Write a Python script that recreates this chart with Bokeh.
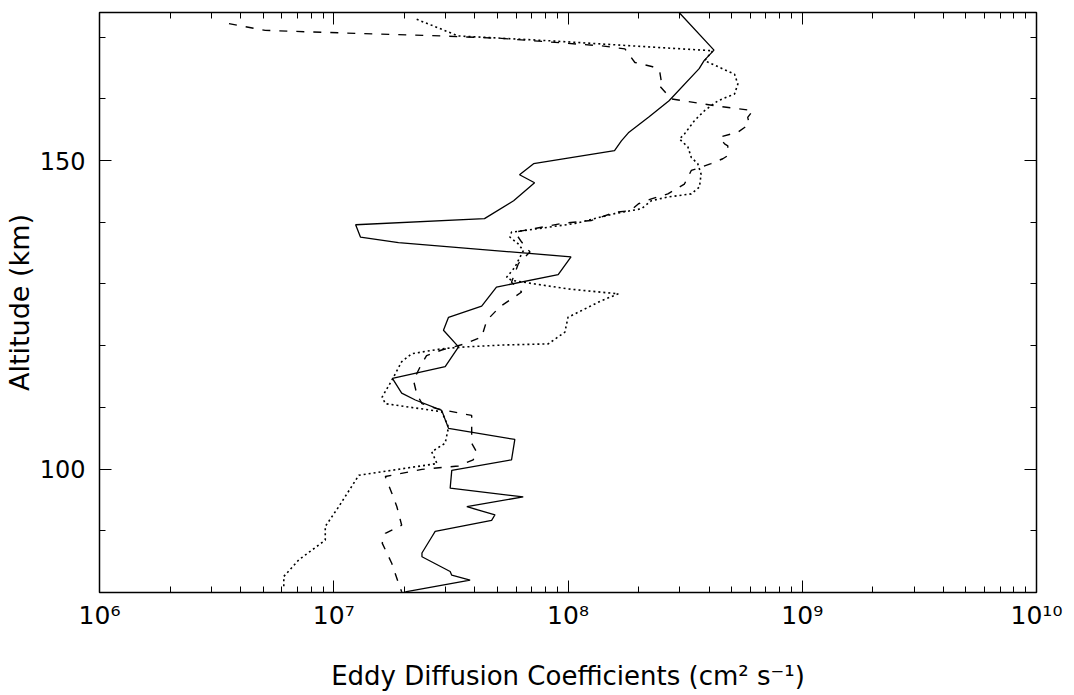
from bokeh.plotting import figure
from bokeh.models import (LogAxis, LinearAxis, FixedTicker, SingleIntervalTicker,
                          CustomJSTickFormatter, Range1d)
from bokeh.embed import file_html
from bokeh.resources import INLINE

# Eddy diffusion profiles: altitude (km) and coefficient (cm^2 s^-1)
solid_alt = [174.0, 167.9, 166.2, 164.9, 159.7, 157.1, 154.5, 153.2, 151.6, 149.5,
             147.7, 146.4, 143.5, 140.6, 139.6, 137.6, 136.7, 134.4, 131.5, 129.5,
             126.4, 124.6, 122.5, 119.8, 116.6, 114.7, 112.3, 111.2, 109.5, 106.6,
             104.8, 101.5, 99.8, 96.9, 95.5, 93.9, 92.6, 91.7, 89.9, 89.0,
             86.4, 85.8, 83.4, 82.8, 82.0, 80.1]
solid_k = [2.98e8, 4.2e8, 3.81e8, 3.63e8, 2.70e8, 2.22e8, 1.81e8, 1.69e8, 1.58e8, 7.13e7,
           6.21e7, 7.2e7, 5.86e7, 4.40e7, 1.24e7, 1.30e7, 1.89e7, 1.03e8, 9.08e7, 4.95e7,
           4.28e7, 3.09e7, 2.94e7, 3.41e7, 2.99e7, 1.78e7, 1.95e7, 2.23e7, 2.89e7, 3.09e7,
           5.93e7, 5.74e7, 3.19e7, 3.14e7, 6.44e7, 3.70e7, 4.88e7, 4.72e7, 2.71e7, 2.62e7,
           2.38e7, 2.38e7, 3.14e7, 3.19e7, 3.82e7, 2.02e7]

dashed_alt = [172.2, 171.1, 170.6, 170.2, 169.8, 168.6, 168.1, 165.9, 165.2, 164.6,
              162.9, 162.4, 160.0, 159.7, 158.9, 158.1, 157.0, 155.9, 154.6, 153.8,
              152.7, 152.4, 150.8, 150.3, 149.5, 148.4, 146.2, 144.6, 143.8, 143.0,
              141.9, 141.6, 140.3, 139.8, 138.4, 136.8, 135.2, 133.3, 130.3, 128.7,
              126.3, 124.1, 121.4, 120.3, 119.3, 118.4, 116.6, 114.4, 112.2, 110.6,
              109.8, 108.7, 104.2, 102.8, 101.5, 100.5, 99.95, 98.8, 96.1, 93.9,
              90.9, 89.6, 88.0, 84.7, 81.5, 80.1]
dashed_k = [3.57e6, 5.1e6, 1.28e7, 2.89e7, 5.2e7, 1.39e8, 1.75e8, 1.93e8, 2.30e8, 2.46e8,
            2.50e8, 2.42e8, 2.76e8, 3.09e8, 4.22e8, 6.15e8, 5.85e8, 5.94e8, 5.31e8, 4.44e8,
            4.66e8, 4.81e8, 4.81e8, 4.58e8, 4.08e8, 3.36e8, 3.14e8, 2.67e8, 2.27e8, 2.0e8,
            1.85e8, 1.58e8, 1.26e8, 9.38e7, 5.93e7, 6.34e7, 6.88e7, 6.14e7, 5.74e7, 6.34e7,
            5.12e7, 4.50e7, 4.28e7, 3.63e7, 2.89e7, 2.49e7, 2.34e7, 2.19e7, 2.26e7, 2.38e7,
            2.75e7, 3.88e7, 3.88e7, 4.07e7, 3.94e7, 3.40e7, 2.38e7, 1.66e7, 1.77e7, 1.86e7,
            1.95e7, 1.66e7, 1.61e7, 1.77e7, 1.89e7, 1.95e7]

dotted_alt = [172.9, 170.2, 169.4, 168.4, 167.8, 166.2, 164.0, 162.4, 160.8, 159.7,
              158.1, 156.5, 154.3, 153.5, 152.2, 150.5, 149.5, 147.8, 145.7, 144.6,
              144.1, 143.5, 142.2, 141.4, 139.8, 138.9, 138.4, 137.6, 136.5, 135.4,
              133.8, 132.7, 131.1, 130.6, 130.0, 129.2, 128.4, 127.3, 124.6, 122.2,
              120.3, 120.1, 119.8, 119.5, 118.7, 117.4, 114.4, 111.7, 110.6, 109.3,
              106.8, 104.2, 102.8, 100.9, 99.0, 98.2, 93.9, 90.7, 88.5, 85.3,
              82.6, 80.7]
dotted_k = [2.26e7, 3.40e7, 8.51e7, 2.27e8, 4.15e8, 3.83e8, 5.14e8, 5.31e8, 5.14e8, 4.37e8,
            3.83e8, 3.47e8, 3.14e8, 2.99e8, 3.25e8, 3.36e8, 3.58e8, 3.70e8, 3.64e8, 3.36e8,
            2.67e8, 2.27e8, 2.06e8, 1.58e8, 1.07e8, 7.22e7, 5.74e7, 5.65e7, 6.13e7, 6.45e7,
            6.13e7, 5.93e7, 5.47e7, 5.74e7, 7.22e7, 1.0e8, 1.64e8, 1.39e8, 1.0e8, 9.7e7,
            8.24e7, 5.21e7, 3.63e7, 2.89e7, 2.15e7, 1.95e7, 1.77e7, 1.61e7, 1.66e7, 2.89e7,
            3.09e7, 2.99e7, 2.62e7, 2.76e7, 1.28e7, 1.24e7, 1.05e7, 9.2e6, 9.2e6, 7.1e6,
            6.12e6, 6.12e6]

x_decades = [1e6, 1e7, 1e8, 1e9, 1e10]
x_minor = [m * d for d in x_decades[:-1] for m in range(2, 10)]

FONT = "DejaVu Sans"

p = figure(width=1074, height=695, x_axis_type="log",
           x_range=Range1d(1e6, 1e10), y_range=Range1d(80, 174),
           output_backend="svg", toolbar_location=None,
           min_border_left=97, min_border_right=38,
           min_border_top=12, min_border_bottom=103)
p.background_fill_color = "white"
p.border_fill_color = "white"
p.outline_line_color = "black"
p.outline_line_width = 1.5
p.xgrid.visible = False
p.ygrid.visible = False

p.line(solid_k, solid_alt, line_color="black", line_width=1.3)
p.line(dashed_k, dashed_alt, line_color="black", line_width=1.4, line_dash="8 9")
p.line(dotted_k, dotted_alt, line_color="black", line_width=1.6, line_dash="2 3")

# decade labels written as 10 with a superscript exponent
sup_fmt = CustomJSTickFormatter(code="""
const sup = {'0':'\u2070','1':'\u00b9','2':'\u00b2','3':'\u00b3','4':'\u2074',
             '5':'\u2075','6':'\u2076','7':'\u2077','8':'\u2078','9':'\u2079','-':'\u207b'};
const e = Math.round(Math.log10(tick));
return '10' + String(e).split('').map(c => sup[c]).join('');
""")

x_ticker = FixedTicker(ticks=x_decades, minor_ticks=x_minor)
y_ticker = SingleIntervalTicker(interval=50, num_minor_ticks=5)


def style(ax):
    ax.axis_line_color = None
    ax.major_tick_in = 12
    ax.major_tick_out = 0
    ax.minor_tick_in = 6
    ax.minor_tick_out = 0
    ax.major_tick_line_color = "black"
    ax.minor_tick_line_color = "black"
    ax.major_tick_line_width = 1
    ax.minor_tick_line_width = 1
    ax.major_label_text_font = FONT
    ax.major_label_text_color = "black"
    ax.axis_label_text_font = FONT
    ax.axis_label_text_font_style = "normal"
    ax.axis_label_text_color = "black"


xa = p.xaxis[0]
xa.ticker = x_ticker
xa.formatter = sup_fmt
style(xa)
xa.major_label_text_font_size = "25px"
xa.major_label_standoff = 8
xa.axis_label = "Eddy Diffusion Coefficients (cm\u00b2 s\u207b\u00b9)"
xa.axis_label_text_font_size = "26px"
xa.axis_label_standoff = 28

ya = p.yaxis[0]
ya.ticker = y_ticker
style(ya)
ya.major_label_text_font_size = "24px"
ya.major_label_standoff = 14
ya.axis_label = "Altitude (km)"
ya.axis_label_text_font_size = "27px"
ya.axis_label_standoff = 2

# mirrored tick marks on the top and right edges, no labels
top = LogAxis(ticker=x_ticker)
style(top)
top.major_label_text_font_size = "1px"
top.major_label_text_color = None
top.major_label_standoff = 0
p.add_layout(top, "above")

right = LinearAxis(ticker=y_ticker)
style(right)
right.major_label_text_font_size = "1px"
right.major_label_text_color = None
right.major_label_standoff = 0
p.add_layout(right, "right")

open("out.html", "w").write(file_html(p, INLINE))
